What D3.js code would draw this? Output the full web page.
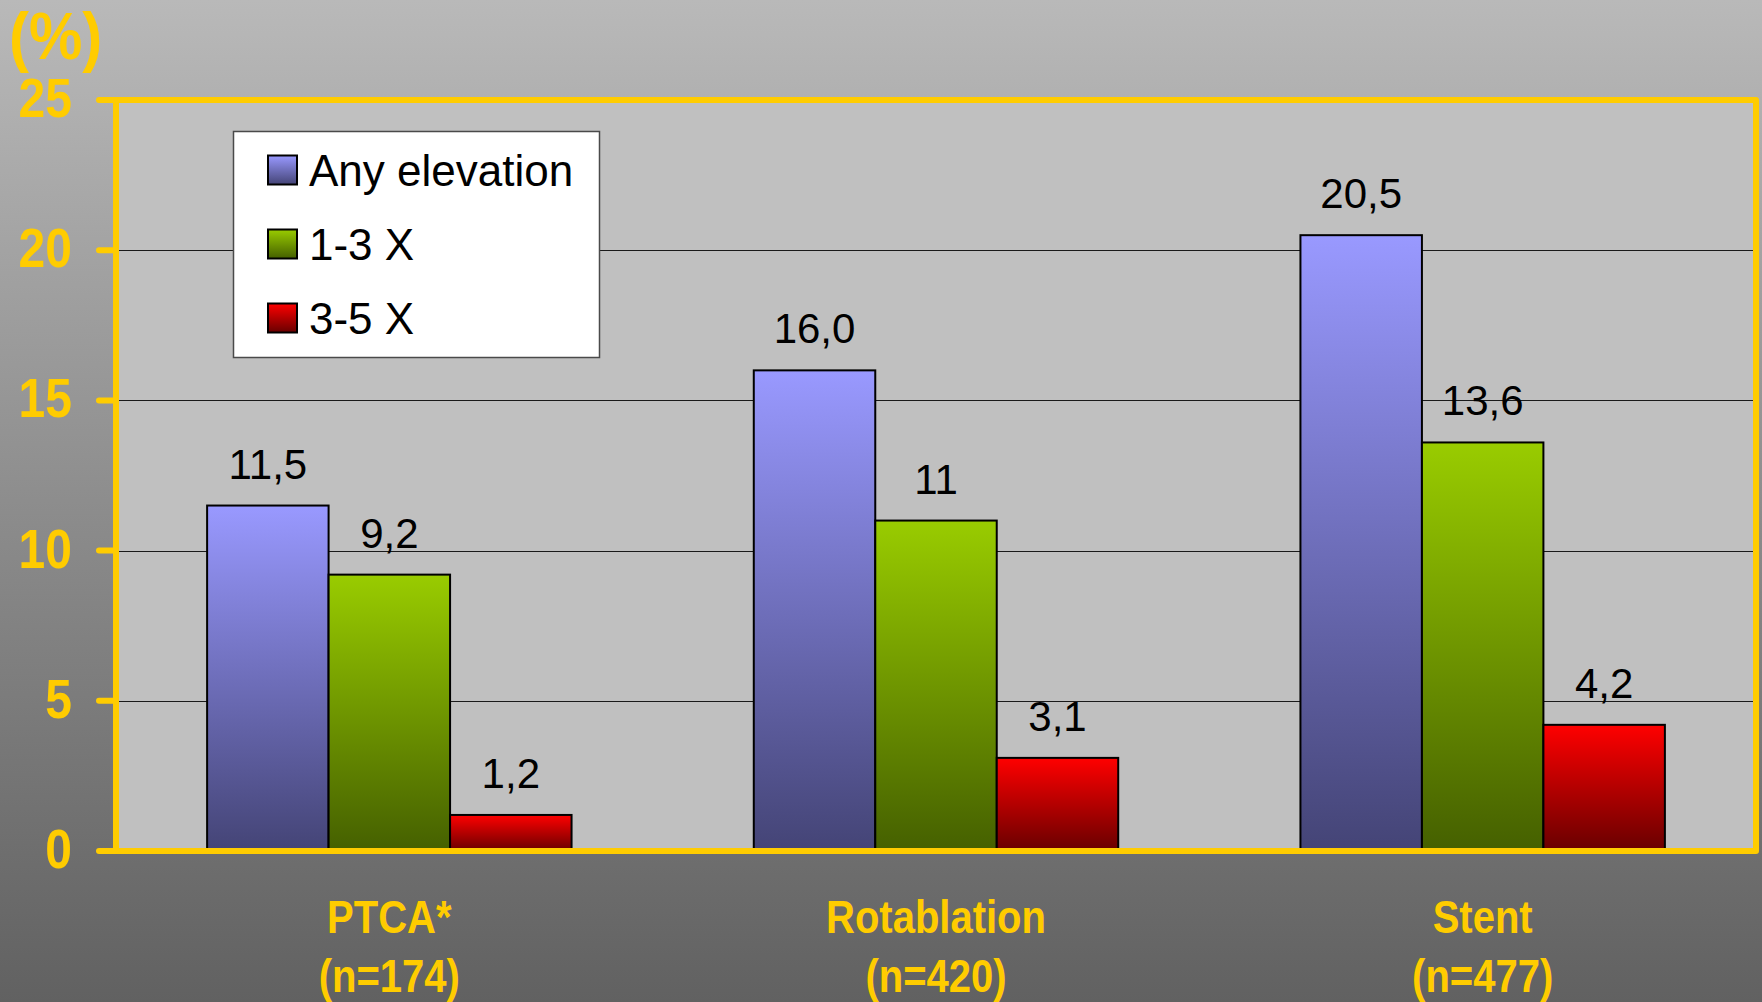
<!DOCTYPE html>
<html>
<head>
<meta charset="utf-8">
<script src="https://cdn.jsdelivr.net/npm/d3@7"></script>
<style>
  html, body { margin: 0; padding: 0; background: #888; }
  svg { display: block; }
  text { font-family: "Liberation Sans", Arial, sans-serif; }
</style>
</head>
<body>
<svg id="chart" width="1762" height="1002"></svg>
<script>
const categories = ["PTCA*", "Rotablation", "Stent"];
const categorySub = ["(n=174)", "(n=420)", "(n=477)"];
const seriesNames = ["Any elevation", "1-3 X", "3-5 X"];
const anyElevation = [11.5, 16.0, 20.5];
const oneToThree = [9.2, 11, 13.6];
const threeToFive = [1.2, 3.1, 4.2];
const labelsAny = ["11,5", "16,0", "20,5"];
const labelsOneThree = ["9,2", "11", "13,6"];
const labelsThreeFive = ["1,2", "3,1", "4,2"];
const yTicks = [0, 5, 10, 15, 20, 25];

const seriesValues = [anyElevation, oneToThree, threeToFive];
const seriesLabels = [labelsAny, labelsOneThree, labelsThreeFive];
const gradStops = [["#9999ff", "#444476"], ["#99cc00", "#456000"], ["#ff0000", "#680000"]];

const W = 1762, H = 1002;
const plot = { left: 116, right: 1756, top: 100, bottom: 851 };
const yellow = "#ffcc00";

const svg = d3.select("#chart");
const defs = svg.append("defs");

const bg = defs.append("linearGradient").attr("id", "bg")
  .attr("x1", 0).attr("y1", 0).attr("x2", 0).attr("y2", 1);
bg.append("stop").attr("offset", "0%").attr("stop-color", "#b9b9b9");
bg.append("stop").attr("offset", "100%").attr("stop-color", "#616161");

gradStops.forEach((s, i) => {
  const g = defs.append("linearGradient").attr("id", "g" + i)
    .attr("x1", 0).attr("y1", 0).attr("x2", 0).attr("y2", 1);
  g.append("stop").attr("offset", "0%").attr("stop-color", s[0]);
  g.append("stop").attr("offset", "100%").attr("stop-color", s[1]);
});

svg.append("rect").attr("width", W).attr("height", H).attr("fill", "url(#bg)");

const x = d3.scaleBand().domain(categories).range([plot.left, plot.right]).padding(0);
const xs = d3.scaleBand().domain(seriesNames).range([0, x.bandwidth()])
  .paddingInner(0).paddingOuter(0.75);
const y = d3.scaleLinear().domain([0, 25]).range([plot.bottom, plot.top]);

// plot area
svg.append("rect")
  .attr("x", plot.left).attr("y", plot.top)
  .attr("width", plot.right - plot.left).attr("height", plot.bottom - plot.top)
  .attr("fill", "#c0c0c0");

// gridlines
svg.append("g").selectAll("line")
  .data(yTicks.filter(t => t > 0 && t < 25))
  .join("line")
  .attr("x1", plot.left).attr("x2", plot.right)
  .attr("y1", d => Math.round(y(d)) + 0.5).attr("y2", d => Math.round(y(d)) + 0.5)
  .attr("stroke", "#1a1a1a").attr("stroke-width", 1);

// bars
const bars = svg.append("g");
seriesNames.forEach((s, si) => {
  const rows = categories.map((c, ci) => ({ c, v: seriesValues[si][ci], label: seriesLabels[si][ci] }));
  bars.append("g").selectAll("rect")
    .data(rows)
    .join("rect")
    .attr("x", d => x(d.c) + xs(s))
    .attr("y", d => y(d.v))
    .attr("width", xs.bandwidth())
    .attr("height", d => y(0) - y(d.v))
    .attr("fill", "url(#g" + si + ")")
    .attr("stroke", "#000").attr("stroke-width", 2);
  bars.append("g").selectAll("text")
    .data(rows)
    .join("text")
    .attr("x", d => x(d.c) + xs(s) + xs.bandwidth() / 2)
    .attr("y", d => y(d.v) - 27)
    .attr("text-anchor", "middle")
    .attr("font-size", 42)
    .attr("fill", "#000")
    .text(d => d.label);
});

// yellow frame
svg.append("path")
  .attr("d", `M${plot.left},${plot.bottom} L${plot.left},${plot.top} L${plot.right},${plot.top} L${plot.right},${plot.bottom} Z`)
  .attr("fill", "none").attr("stroke", yellow).attr("stroke-width", 6)
  .attr("stroke-linejoin", "round");

// y ticks
svg.append("g").selectAll("line")
  .data(yTicks).join("line")
  .attr("x1", plot.left - 17).attr("x2", plot.left)
  .attr("y1", d => y(d)).attr("y2", d => y(d))
  .attr("stroke", yellow).attr("stroke-width", 6).attr("stroke-linecap", "round");

svg.append("g").selectAll("text")
  .data(yTicks).join("text")
  .attr("transform", d => `translate(72,${y(d) + 17}) scale(1,1.15)`)
  .attr("text-anchor", "end")
  .attr("font-size", 48).attr("font-weight", "bold")
  .attr("fill", yellow)
  .text(d => d);

// y unit label
svg.append("text")
  .attr("transform", "translate(9,59) scale(1,1.1)")
  .attr("font-size", 60).attr("font-weight", "bold")
  .attr("fill", yellow)
  .text("(%)");

// x category labels
const xl = svg.append("g");
categories.forEach((c, i) => {
  const cx = x(c) + x.bandwidth() / 2;
  xl.append("text")
    .attr("transform", `translate(${cx},933) scale(1,1.15)`)
    .attr("text-anchor", "middle").attr("font-size", 40).attr("font-weight", "bold")
    .attr("fill", yellow).text(c);
  xl.append("text")
    .attr("transform", `translate(${cx},992) scale(1,1.15)`)
    .attr("text-anchor", "middle").attr("font-size", 40).attr("font-weight", "bold")
    .attr("fill", yellow).text(categorySub[i]);
});

// legend
const lg = svg.append("g");
lg.append("rect").attr("x", 233.5).attr("y", 131.5).attr("width", 366).attr("height", 226)
  .attr("fill", "#fff").attr("stroke", "#4a4a4a").attr("stroke-width", 1.5);
const rowY = [170, 244, 318];
seriesNames.forEach((s, i) => {
  lg.append("rect").attr("x", 268).attr("y", rowY[i] - 14.5).attr("width", 29).attr("height", 29)
    .attr("fill", "url(#g" + i + ")").attr("stroke", "#000").attr("stroke-width", 2);
  lg.append("text").attr("x", 309).attr("y", rowY[i] + 15.5)
    .attr("font-size", 44).attr("fill", "#000").text(s);
});
</script>
</body>
</html>
